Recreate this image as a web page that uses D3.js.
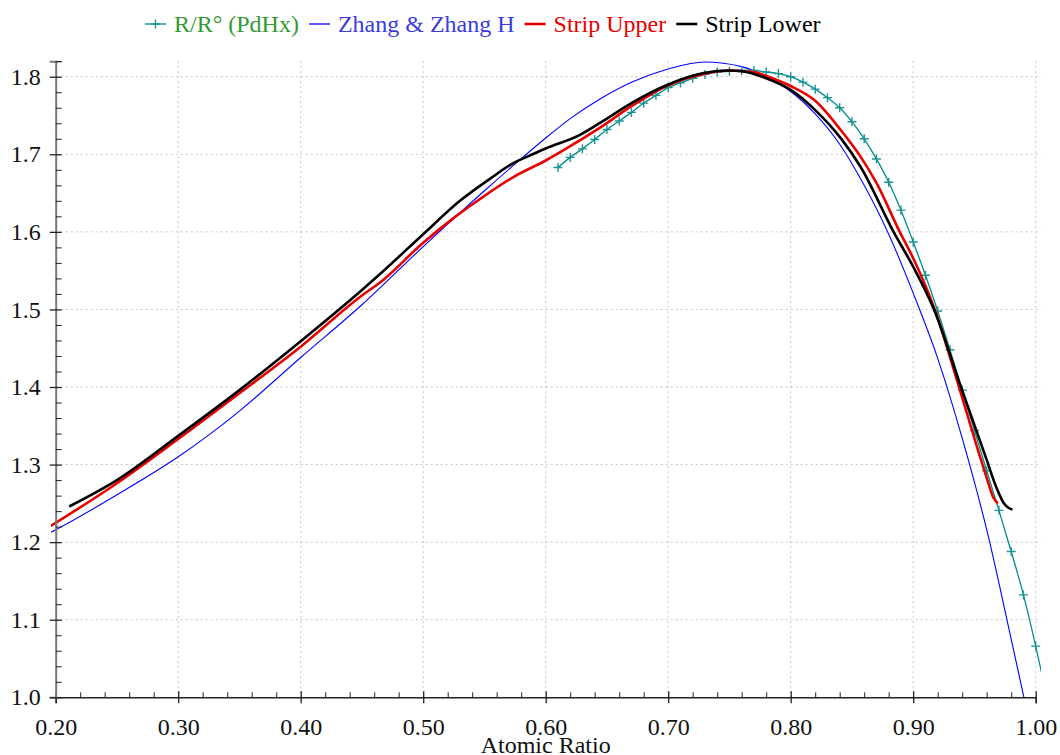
<!DOCTYPE html>
<html>
<head>
<meta charset="utf-8">
<script src="https://cdn.jsdelivr.net/npm/d3@7/dist/d3.min.js"></script>
<style>
  body { margin: 0; background: #fff; }
  svg { font-family: "Liberation Serif", "Times New Roman", serif; }
</style>
</head>
<body>
<svg id="chart" width="1060" height="755"></svg>
<script>
// series
var tealX = [0.61, 0.62, 0.63, 0.64, 0.65, 0.66, 0.67, 0.68, 0.69, 0.70,
             0.71, 0.72, 0.73, 0.74, 0.75, 0.76, 0.77, 0.78, 0.79, 0.80,
             0.81, 0.82, 0.83, 0.84, 0.85, 0.86, 0.87, 0.88, 0.89, 0.90,
             0.91, 0.92, 0.93, 0.94, 0.95, 0.96, 0.97, 0.98, 0.99, 1.00, 1.01];
var tealY = [1.683, 1.696, 1.707, 1.719, 1.732, 1.743, 1.754, 1.766, 1.776, 1.786,
             1.792, 1.798, 1.803, 1.806, 1.807, 1.808, 1.808, 1.806, 1.804, 1.800,
             1.793, 1.784, 1.773, 1.760, 1.742, 1.720, 1.694, 1.664, 1.628, 1.587,
             1.544, 1.498, 1.448, 1.396, 1.344, 1.292, 1.241, 1.188, 1.132, 1.066, 0.995];

var blueX = [0.19, 0.20, 0.25, 0.30, 0.35, 0.40, 0.45, 0.50, 0.55, 0.582, 0.60, 0.62, 0.645,
             0.67, 0.70, 0.73, 0.76, 0.78, 0.80, 0.82, 0.84, 0.86, 0.88, 0.90, 0.92,
             0.94, 0.96, 0.98, 1.00];
var blueY = [1.208, 1.216, 1.261, 1.310, 1.369, 1.438, 1.506, 1.581, 1.653, 1.697, 1.721, 1.746, 1.772,
             1.793, 1.810, 1.819, 1.813, 1.800, 1.781, 1.752, 1.713, 1.660, 1.597, 1.521, 1.437,
             1.334, 1.216, 1.075, 0.930];

var redX = [0.19, 0.25, 0.30, 0.35, 0.40, 0.45, 0.465, 0.50, 0.525, 0.547, 0.574, 0.60, 0.617,
            0.645, 0.67, 0.70, 0.73, 0.75, 0.77, 0.78, 0.80, 0.82, 0.841, 0.857, 0.87, 0.889,
            0.90, 0.9176, 0.9374, 0.955, 0.960, 0.965, 0.969];
var redY = [1.215, 1.276, 1.333, 1.392, 1.452, 1.518, 1.535, 1.586, 1.618, 1.643, 1.671, 1.692, 1.7075,
            1.735, 1.762, 1.789, 1.804, 1.808, 1.806, 1.801, 1.788, 1.769, 1.731, 1.697, 1.663, 1.600,
            1.566, 1.500, 1.400, 1.308, 1.283, 1.259, 1.250];

var blackX = [0.211, 0.25, 0.30, 0.35, 0.40, 0.45, 0.465, 0.50, 0.53, 0.555, 0.574, 0.585, 0.60,
              0.628, 0.645, 0.67, 0.70, 0.73, 0.75, 0.76, 0.78, 0.80, 0.82, 0.841, 0.857, 0.884,
              0.90, 0.917, 0.939, 0.960, 0.968, 0.974, 0.978, 0.981];
var blackY = [1.246, 1.280, 1.337, 1.396, 1.459, 1.525, 1.546, 1.597, 1.640, 1.669, 1.689, 1.697, 1.7075,
              1.725, 1.741, 1.766, 1.790, 1.805, 1.808, 1.807, 1.798, 1.783, 1.757, 1.7205, 1.684, 1.600,
              1.555, 1.500, 1.400, 1.306, 1.270, 1.250, 1.244, 1.242];

var xTicks = [0.20, 0.30, 0.40, 0.50, 0.60, 0.70, 0.80, 0.90, 1.00];
var yTicks = [1.0, 1.1, 1.2, 1.3, 1.4, 1.5, 1.6, 1.7, 1.8];

var legendNames = ["R/R\u00b0 (PdHx)", "Zhang & Zhang H", "Strip Upper", "Strip Lower"];
var legendText = ["#339933", "#3b3bdc", "#e60000", "#000000"];
var lineColors = ["#008b8b", "#0000ff", "#e60000", "#000000"];

function zip(xs, ys) { return xs.map(function(v, i) { return {x: v, y: ys[i]}; }); }

var svg = d3.select("#chart");

var x = d3.scaleLinear().domain([0.2, 1.0]).range([55.7, 1035.7]);
var y = d3.scaleLinear().domain([1.0, 1.82]).range([697.3, 61.2]);

var minorX = d3.range(0.20, 1.001, 0.02).filter(function(v) { return Math.abs(v * 10 - Math.round(v * 10)) > 0.01; });
var minorY = d3.range(1.0, 1.821, 0.02).filter(function(v) { return Math.abs(v * 10 - Math.round(v * 10)) > 0.01; });

// grid
var grid = svg.append("g").attr("stroke", "#c4c4c4").attr("stroke-dasharray", "2,3").attr("stroke-width", 1);
grid.selectAll(".vg").data(xTicks.slice(1)).enter().append("line")
    .attr("x1", function(d) { return x(d); }).attr("x2", function(d) { return x(d); })
    .attr("y1", y(1.82)).attr("y2", y(1.0));
grid.selectAll(".hg").data(yTicks.slice(1)).enter().append("line")
    .attr("x1", x(0.2)).attr("x2", 1041)
    .attr("y1", function(d) { return y(d); }).attr("y2", function(d) { return y(d); });

// clip for the data
svg.append("clipPath").attr("id", "plotclip")
  .append("rect").attr("x", 51).attr("y", 55).attr("width", 1041 - 51).attr("height", y(1.0) - 55);

var plot = svg.append("g").attr("clip-path", "url(#plotclip)");

var line = d3.line()
    .x(function(d) { return x(d.x); })
    .y(function(d) { return y(d.y); })
    .curve(d3.curveMonotoneX);

plot.append("path").datum(zip(blueX, blueY))
    .attr("fill", "none").attr("stroke", lineColors[1]).attr("stroke-width", 1.1).attr("d", line);

plot.append("path").datum(zip(tealX, tealY))
    .attr("fill", "none").attr("stroke", lineColors[0]).attr("stroke-width", 1.3).attr("d", line);

plot.selectAll(".mk").data(zip(tealX, tealY)).enter().append("path")
    .attr("class", "mk")
    .attr("d", function(d) {
      var cx = x(d.x), cy = y(d.y);
      return "M" + (cx - 4.5) + "," + cy + "H" + (cx + 4.5) + "M" + cx + "," + (cy - 4.5) + "V" + (cy + 4.5);
    })
    .attr("stroke", "#1a9393").attr("stroke-width", 1.4);

plot.append("path").datum(zip(redX, redY))
    .attr("fill", "none").attr("stroke", lineColors[2]).attr("stroke-width", 2.6)
    .attr("stroke-linejoin", "round").attr("d", line);

plot.append("path").datum(zip(blackX, blackY))
    .attr("fill", "none").attr("stroke", lineColors[3]).attr("stroke-width", 2.6)
    .attr("stroke-linejoin", "round").attr("d", line);

// axes
var xAxis = svg.append("g").attr("transform", "translate(0," + y(1.0) + ")")
    .call(d3.axisBottom(x).tickValues(xTicks).tickFormat(d3.format(".2f")).tickSize(6).tickPadding(15));
xAxis.select(".domain").attr("stroke", "#222").attr("stroke-width", 1.5);
xAxis.selectAll(".tick line").attr("y1", -6).attr("y2", 6).attr("stroke", "#222").attr("stroke-width", 1.3);
xAxis.selectAll("text").attr("font-size", 24).attr("font-family", "Liberation Serif").attr("fill", "#111");

var xMinor = svg.append("g").attr("transform", "translate(0," + y(1.0) + ")")
    .call(d3.axisTop(x).tickValues(minorX).tickSize(5).tickFormat(""));
xMinor.select(".domain").remove();
xMinor.selectAll(".tick line").attr("stroke", "#222");

var yAxis = svg.append("g").attr("transform", "translate(" + x(0.2) + ",0)")
    .call(d3.axisLeft(y).tickValues(yTicks).tickFormat(d3.format(".1f")).tickSize(6).tickPadding(9));
yAxis.select(".domain").attr("stroke", "#777").attr("stroke-width", 2);
yAxis.selectAll(".tick line").attr("x1", -6).attr("x2", 6).attr("stroke", "#222").attr("stroke-width", 1.3);
yAxis.selectAll("text").attr("font-size", 24).attr("font-family", "Liberation Serif").attr("fill", "#111");

var yMinor = svg.append("g").attr("transform", "translate(" + x(0.2) + ",0)")
    .call(d3.axisRight(y).tickValues(minorY.concat([1.82])).tickSize(6).tickFormat(""));
yMinor.select(".domain").remove();
yMinor.selectAll(".tick line").attr("stroke", "#222");

svg.append("text")
    .attr("x", (x(0.2) + x(1.0)) / 2).attr("y", 753)
    .attr("text-anchor", "middle").attr("font-size", 24).attr("fill", "#111")
    .text("Atomic Ratio");

// legend
var lx = 145, ly = 24;
legendNames.forEach(function(name, i) {
  var g = svg.append("g");
  g.append("line").attr("x1", lx).attr("x2", lx + 21).attr("y1", ly).attr("y2", ly)
    .attr("stroke", lineColors[i]).attr("stroke-width", i >= 2 ? 2.6 : 1.3);
  if (i === 0) {
    g.append("path").attr("d", "M" + (lx + 6) + "," + ly + "H" + (lx + 15) + "M" + (lx + 10.5) + "," + (ly - 4.5) + "V" + (ly + 4.5))
      .attr("stroke", "#1a9393").attr("stroke-width", 1.4);
  }
  var t = g.append("text").attr("x", lx + 29).attr("y", ly + 8)
    .attr("font-size", 24).attr("fill", legendText[i]).text(name);
  lx = lx + 29 + t.node().getComputedTextLength() + 10;
});
</script>
</body>
</html>
